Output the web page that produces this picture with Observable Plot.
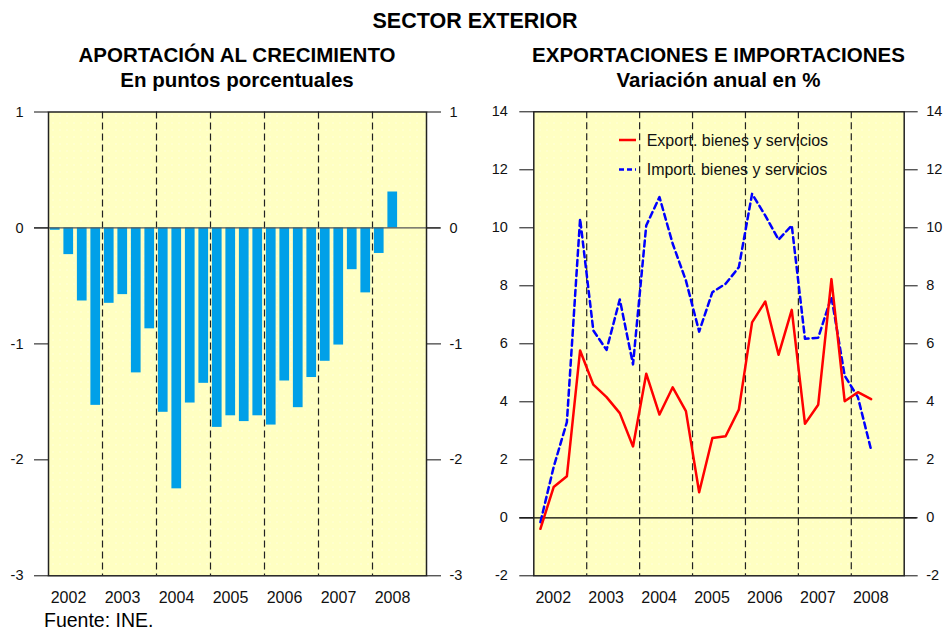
<!DOCTYPE html>
<html><head><meta charset="utf-8">
<script src="https://cdn.jsdelivr.net/npm/d3@7"></script>
<script src="https://cdn.jsdelivr.net/npm/@observablehq/plot@0.6"></script>
<style>
body{margin:0;background:#fff;font-family:"Liberation Sans",Arial,sans-serif;}
#wrap{position:relative;width:947px;height:632px;overflow:hidden;background:#fff;}
.t{position:absolute;text-align:center;font-weight:bold;line-height:1;white-space:nowrap;color:#000;}
#left,#right{position:absolute;top:0;}
#left{left:0}
#right{left:480px}
#fuente{position:absolute;left:44px;top:611px;font-size:19.5px;line-height:1;color:#000;white-space:nowrap;}
#leyenda{position:absolute;left:610px;top:125px;}
</style></head><body>
<div id="wrap">
  <div id="left"></div>
  <div id="right"></div>
  <div class="t" style="left:275px;width:400px;top:11.1px;font-size:21.5px">SECTOR EXTERIOR</div>
  <div class="t" style="left:37px;width:400px;top:45.3px;font-size:20.5px">APORTACIÓN AL CRECIMIENTO</div>
  <div class="t" style="left:37px;width:400px;top:70px;font-size:20.5px">En puntos porcentuales</div>
  <div class="t" style="left:518.5px;width:400px;top:45.3px;font-size:20.5px">EXPORTACIONES E IMPORTACIONES</div>
  <div class="t" style="left:518.5px;width:400px;top:70px;font-size:20.5px">Variación anual en %</div>
  <svg id="leyenda" width="240" height="60" style="font-family:'Liberation Sans',Arial,sans-serif">
    <line x1="9" x2="26" y1="15" y2="15" stroke="#ff0000" stroke-width="2.5"/>
    <text x="36.7" y="20.7" font-size="16" fill="#111">Export. bienes y servicios</text>
    <line x1="9" x2="26" y1="44.5" y2="44.5" stroke="#0000ff" stroke-width="2.5" stroke-dasharray="5,3"/>
    <text x="36.7" y="50" font-size="16" fill="#111">Import. bienes y servicios</text>
  </svg>
  <div id="fuente">Fuente: INE.</div>
</div>
<script>
// Trimestres 2002T1 – 2008T2
const trimestres = [
  "2002T1","2002T2","2002T3","2002T4",
  "2003T1","2003T2","2003T3","2003T4",
  "2004T1","2004T2","2004T3","2004T4",
  "2005T1","2005T2","2005T3","2005T4",
  "2006T1","2006T2","2006T3","2006T4",
  "2007T1","2007T2","2007T3","2007T4",
  "2008T1","2008T2"
];
const anios = [2002, 2003, 2004, 2005, 2006, 2007, 2008];

// Aportación al crecimiento (puntos porcentuales)
const aportacion = [
  -0.02, -0.23, -0.63, -1.53,
  -0.65, -0.575, -1.25, -0.87,
  -1.59, -2.25, -1.51, -1.34,
  -1.72, -1.62, -1.67, -1.62,
  -1.70, -1.32, -1.55, -1.29,
  -1.15, -1.01, -0.36, -0.56,
  -0.22, 0.31
];

// Variación anual en %
const exportaciones = [
  -0.38, 1.06, 1.43, 5.77,
  4.59, 4.16, 3.61, 2.46,
  4.97, 3.56, 4.50, 3.68,
  0.88, 2.75, 2.81, 3.73,
  6.74, 7.46, 5.62, 7.17,
  3.24, 3.90, 8.23, 4.02,
  4.33, 4.09
];
const importaciones = [
  -0.15, 1.75, 3.30, 10.31,
  6.46, 5.79, 7.53, 5.29,
  10.08, 11.06, 9.45, 8.18,
  6.42, 7.78, 8.07, 8.64,
  11.17, 10.42, 9.59, 10.08,
  6.17, 6.21, 7.62, 4.90,
  4.16, 2.34
];

const ticksIzq = [-3, -2, -1, 0, 1];
const ticksDer = [-2, 0, 2, 4, 6, 8, 10, 12, 14];

const tiempo = s => +s.slice(0, 4) + (+s.slice(5) - 1) / 4;
const barras = trimestres.map((p, i) => ({t: tiempo(p), v: aportacion[i]}));
const series = trimestres.map((p, i) => ({t: tiempo(p), exp: exportaciones[i], imp: importaciones[i]}));

const fam = "'Liberation Sans', Arial, sans-serif";
const fondo = "#ffffc2";

function addPattern(svg, id) {
  const ns = "http://www.w3.org/2000/svg";
  const defs = document.createElementNS(ns, "defs");
  defs.innerHTML = `<pattern id="${id}" width="7" height="7" patternUnits="userSpaceOnUse">
    <rect width="7" height="7" fill="${fondo}"/>
    <rect x="3" y="3" width="1" height="1" fill="#ffffff" opacity="0.75"/></pattern>`;
  svg.insertBefore(defs, svg.firstChild);
}

const left = Plot.plot({
  width: 480, height: 632,
  marginLeft: 48, marginRight: 54, marginTop: 111.5, marginBottom: 56.7,
  style: {fontFamily: fam, color: "#111", background: "transparent", overflow: "visible"},
  x: {domain: [2002, 2009]},
  y: {domain: [-3, 1]},
  marks: [
    Plot.frame({fill: "url(#puntosIzq)", stroke: null}),
    Plot.ruleX(anios.slice(1), {stroke: "#222", strokeDasharray: "7,4", strokeWidth: 1.2}),
    Plot.rectY(barras, {x: "t", interval: 0.25, y: "v", fill: "#00a0e8", insetLeft: 1.9, insetRight: 1.9}),
    Plot.ruleY([0], {stroke: "#555", strokeWidth: 1.2, insetLeft: -14, insetRight: -14}),
    Plot.frame({stroke: "#222", strokeWidth: 1.5}),
    Plot.axisY({anchor: "left", ticks: ticksIzq, tickSize: 14, tickPadding: 11, fontSize: 14.5, label: null, tickFormat: d => String(d)}),
    Plot.axisY({anchor: "right", ticks: ticksIzq, tickSize: 14, tickPadding: 9, fontSize: 14.5, label: null, tickFormat: d => String(d)}),
    Plot.axisX({ticks: anios.map(a => a + 0.5), tickSize: 0, tickPadding: 16, dx: -7, fontSize: 16, label: null, tickFormat: d => String(Math.floor(d))})
  ]
});
addPattern(left, "puntosIzq");
document.getElementById("left").append(left);

const right = Plot.plot({
  width: 467, height: 632,
  marginLeft: 53.3, marginRight: 43.3, marginTop: 111.3, marginBottom: 56.7,
  style: {fontFamily: fam, color: "#111", background: "transparent", overflow: "visible"},
  x: {domain: [2002, 2009]},
  y: {domain: [-2, 14]},
  marks: [
    Plot.frame({fill: "url(#puntosDer)", stroke: null}),
    Plot.ruleX(anios.slice(1), {stroke: "#222", strokeDasharray: "7,4", strokeWidth: 1.2}),
    Plot.ruleY([0], {stroke: "#000", strokeWidth: 1.2, insetLeft: -14, insetRight: -13}),
    Plot.lineY(series, {x: d => d.t + 0.125, y: "imp", stroke: "#0000ff", strokeWidth: 2.5, strokeDasharray: "6,4"}),
    Plot.lineY(series, {x: d => d.t + 0.125, y: "exp", stroke: "#ff0000", strokeWidth: 2.5}),
    Plot.frame({stroke: "#222", strokeWidth: 1.5}),
    Plot.axisY({anchor: "left", ticks: ticksDer, tickSize: 14, tickPadding: 12, fontSize: 14.5, label: null, tickFormat: d => String(d)}),
    Plot.axisY({anchor: "right", ticks: ticksDer, tickSize: 13, tickPadding: 9, fontSize: 14.5, label: null, tickFormat: d => String(d)}),
    Plot.axisX({ticks: anios.map(a => a + 0.5), tickSize: 0, tickPadding: 16, dx: -7, fontSize: 16, label: null, tickFormat: d => String(Math.floor(d))})
  ]
});
addPattern(right, "puntosDer");
document.getElementById("right").append(right);
</script>
</body></html>
